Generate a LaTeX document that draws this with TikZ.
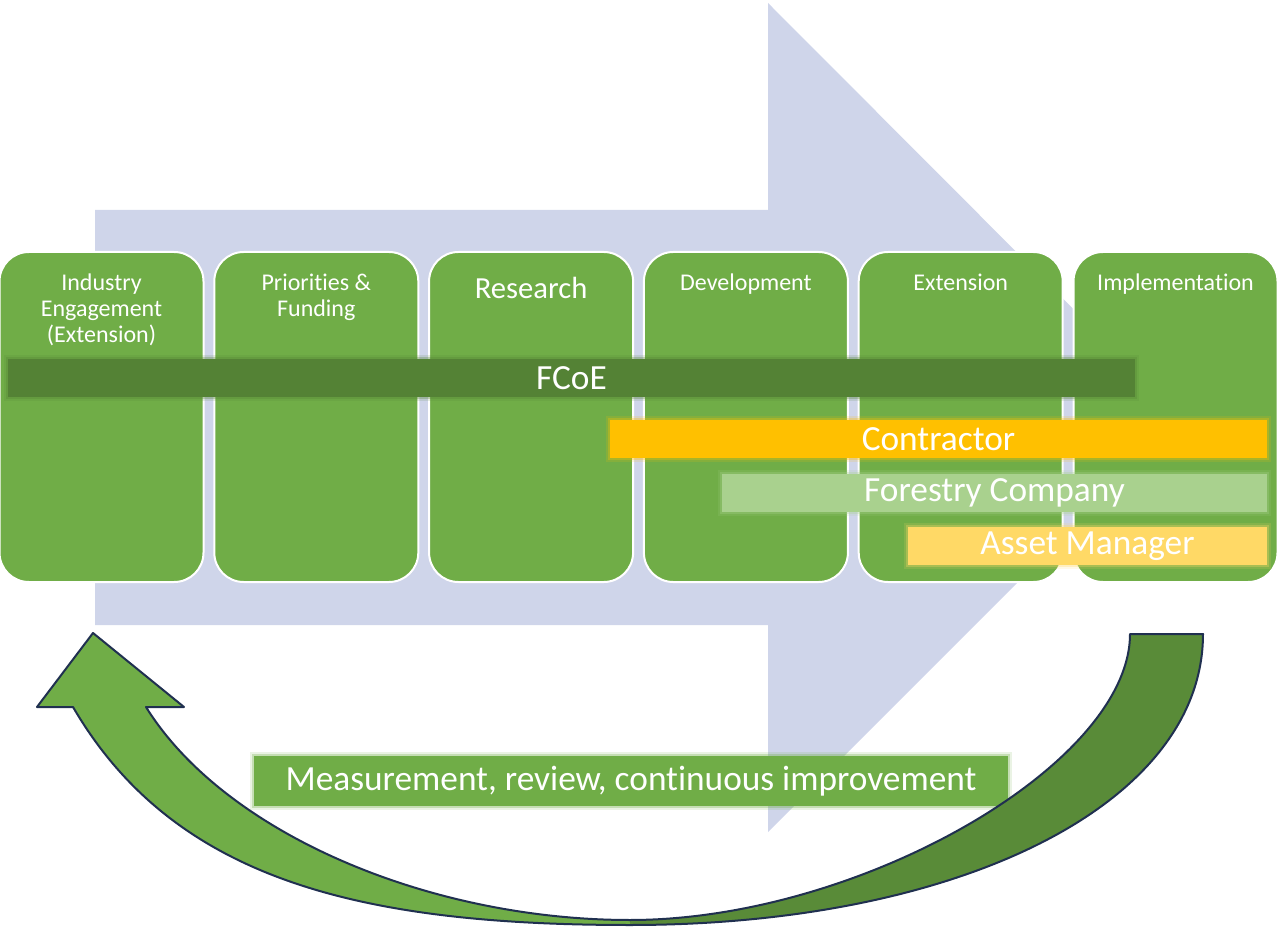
\documentclass[tikz,border=0pt]{standalone}
\usepackage{fontspec}
\setmainfont{Carlito}[Ligatures=NoCommon]
\usepackage{xcolor}
\usetikzlibrary{positioning}
\definecolor{lavender}{RGB}{207,213,234}
\definecolor{stagegreen}{RGB}{112,173,71}
\definecolor{darkgreen}{RGB}{84,130,53}
\definecolor{loopgreen}{RGB}{89,139,56}
\definecolor{amber}{RGB}{255,192,0}
\definecolor{palegreen}{RGB}{169,209,142}
\definecolor{paleyellow}{RGB}{255,217,102}
\definecolor{navy}{RGB}{32,48,80}
\tikzstyle{every node}=[font=\fontsize{18}{19.5}\selectfont, text=white]
\tikzstyle{stage} = [rectangle, draw=white, line width=1.5pt, fill=stagegreen, rounded corners=22pt, minimum width=153pt, minimum height=247.5pt, outer sep=0pt, node distance=8.1pt]
\tikzstyle{stagetitle} = [anchor=north, align=center, inner sep=0pt]
\tikzset{rolebar/.style={rectangle, minimum height=28.5pt, inner sep=0pt, font=\fontsize{26.5}{28}\selectfont, fill=#1,
    preaction={draw=#1, line width=6pt, draw opacity=0.15},
    preaction={draw=#1, line width=3pt, draw opacity=0.3}}}
\tikzstyle{looparrow} = [draw=navy, line width=1.5pt, line join=round]

\begin{document}
\begin{tikzpicture}[x=0.75pt, y=-0.75pt]
    \useasboundingbox (0,0) rectangle (1279,927);
    % Background arrow
    \fill [lavender] (95,210) -- (768,210) -- (768,3) -- (1182,418) -- (768,832) -- (768,625) -- (95,625) -- cycle;
    % Place stages
    \node [stage] (industry) at (101.5,417) {};
    \node [stage, right=of industry] (priorities) {};
    \node [stage, right=of priorities] (research) {};
    \node [stage, right=of research] (development) {};
    \node [stage, right=of development] (extension) {};
    \node [stage, right=of extension] (implementation) {};
    \node [stagetitle] at ([yshift=-16pt]industry.north) {Industry\\Engagement\\(Extension)};
    \node [stagetitle] at ([yshift=-16pt]priorities.north) {Priorities \&\\Funding};
    \node [stagetitle, font=\fontsize{23}{25}\selectfont] at ([yshift=-19pt]research.north) {Research};
    \node [stagetitle] at ([yshift=-16pt]development.north) {Development};
    \node [stagetitle] at ([yshift=-16pt]extension.north) {Extension};
    \node [stagetitle] at ([yshift=-16pt]implementation.north) {Implementation};
    % Role bars
    \node [rolebar=darkgreen, minimum width=845pt] (fcoe) at (571.5,378) {FCoE};
    \node [rolebar=amber, minimum width=492.75pt] (contractor) at (938.5,439) {Contractor};
    \node [rolebar=palegreen, minimum width=408.75pt] (forestry) at (994.5,493) {Forestry Company};
    \node [rolebar=paleyellow, minimum width=269.25pt] (asset) at (1087.5,546) {Asset Manager};
    \node [rolebar=stagegreen, minimum width=565.5pt, minimum height=37pt] (measure) at (631,781) {Measurement, review, continuous improvement};
    % Feedback arrow
    \fill [stagegreen] (630,925) .. controls (360,925) and (174,880) .. (73,707) -- (37,707) -- (93,633) -- (184,707) -- (146,707) .. controls (225,834) and (430,920) .. (630,920) -- cycle;
    \fill [loopgreen] (630,920) .. controls (860,920) and (1130,764) .. (1130,634) -- (1203,634) .. controls (1203,804) and (960,925) .. (630,925) -- cycle;
    \draw [looparrow] (1130,634) -- (1203,634) .. controls (1203,804) and (960,925) .. (630,925) .. controls (360,925) and (174,880) .. (73,707) -- (37,707) -- (93,633) -- (184,707) -- (146,707) .. controls (225,834) and (430,920) .. (630,920) .. controls (860,920) and (1130,764) .. (1130,634) -- cycle;
\end{tikzpicture}
\end{document}
